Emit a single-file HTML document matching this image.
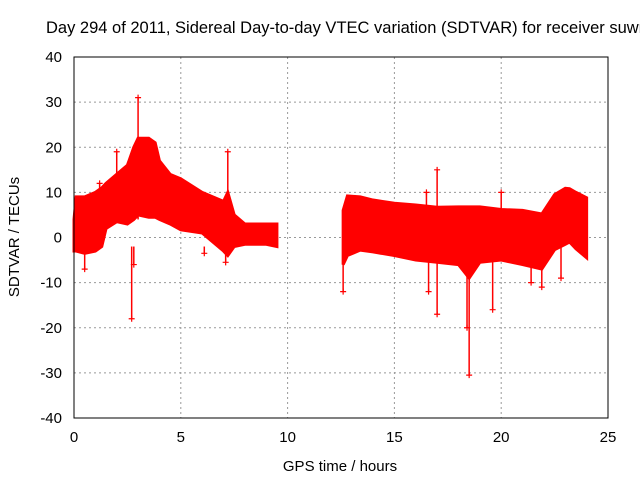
<!DOCTYPE html>
<html><head><meta charset="utf-8"><style>
body{margin:0;background:#fff}
svg text{font-family:"Liberation Sans",sans-serif;font-size:15px;fill:#000}
</style></head><body>
<svg id="c" width="640" height="480">
<text x="46" y="33" style="font-size:16.5px">Day 294 of 2011, Sidereal Day-to-day VTEC variation (SDTVAR) for receiver suwn</text>
<text x="340" y="471" text-anchor="middle">GPS time / hours</text>
<text x="19" y="237" text-anchor="middle" transform="rotate(-90 19 237)">SDTVAR / TECUs</text>
<g id="grid"></g><g id="data"></g>
<rect x="74" y="57" width="534" height="361" fill="none" stroke="#000"/>
</svg>
<script>
const xTicks=[0,5,10,15,20,25];
const yTicks=[40,30,20,10,0,-10,-20,-30,-40];
const seg1T=[0,0.1,0.5,1,1.3,1.5,2,2.5,2.8,3,3.5,3.8,4,4.5,5,6,7,7.2,7.5,8,9,9.5];
const seg1Upper=[4,9,9,10,11,12,14,16,20,22,22,21,17,14,13,10,8,10,5,3,3,3];
const seg1Lower=[-3,-3,-3.5,-3,-2,2,3.5,3,4,5,4.5,4.5,4,3,1.7,1,-3,-4,-2,-1.5,-1.5,-2];
const seg2T=[12.6,12.8,13.4,14,15,16,17,18,18.5,19,20,21,21.9,22.5,23,23.2,23.5,24];
const seg2Upper=[6,9.2,9,8.3,7.6,7.2,6.7,6.8,6.8,6.8,6.2,6,5.2,9.5,10.9,10.8,10,8.8];
const seg2Lower=[-6,-4,-2.8,-3.2,-4,-5,-5.5,-6,-9,-5.5,-5,-6,-7,-2.7,-1.5,-1,-2.5,-4.5];
const spikeT=[2.7,3,7.2,6.1,12.6,17,17,18.5,19.6,18.4,16.5,20,21.9,22.8,0.5,2.8,7.1,16.6,21.4,2,1.2];
const spikeV=[-18,31,19,-3.5,-12,15,-17,-30.5,-16,-20,10,10,-11,-9,-7,-6,-5.5,-12,-10,19,12];
const X=t=>74+t*(534/25), Y=v=>237.5-v*(361/80);
const NS="http://www.w3.org/2000/svg";
const g=document.getElementById('grid'), d=document.getElementById('data');
function mk(p,tag,a){const e=document.createElementNS(NS,tag);for(const k in a)e.setAttribute(k,a[k]);p.appendChild(e);return e;}
xTicks.forEach(t=>{
 const l=mk(g,'line',{x1:X(t),x2:X(t),y1:57,y2:418,stroke:'#999','stroke-dasharray':'2,3'});
 
 
 const tx=mk(g,'text',{x:X(t),y:442,'text-anchor':'middle'});tx.textContent=t;
 
 
});
yTicks.forEach(v=>{
 const l=mk(g,'line',{x1:74,x2:608,y1:Y(v),y2:Y(v),stroke:'#999','stroke-dasharray':'2,3'});
 
 
 const tx=mk(g,'text',{x:62,y:Y(v)+5,'text-anchor':'end'});tx.textContent=v;
 
 
});
function band(T,U,L,name){
 let pts=T.map((t,i)=>X(t)+','+Y(U[i]));
 for(let i=T.length-1;i>=0;i--)pts.push(X(T[i])+','+Y(L[i]));
 const p=mk(d,'polygon',{points:pts.join(' '),fill:'#f00',stroke:'#f00','stroke-width':3});
 
 
}
band(seg1T,seg1Upper,seg1Lower,'data-band-morning');
band(seg2T,seg2Upper,seg2Lower,'data-band-evening');
spikeT.forEach((t,i)=>{
 const v=spikeV[i];
 const l=mk(d,'line',{x1:X(t),x2:X(t),y1:Y(v>0?4:-2),y2:Y(v),stroke:'#f00','stroke-width':1.5});
 
 
 const p=mk(d,'path',{d:`M${X(t)-3},${Y(v)}h6M${X(t)},${Y(v)-3}v6`,stroke:'#f00','stroke-width':1.2});
 
 
});
</script>
</body></html>
